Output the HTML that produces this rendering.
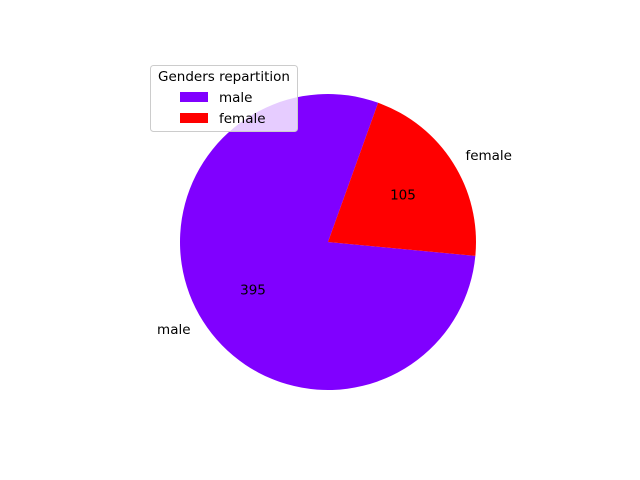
<!DOCTYPE html>
<html><head><meta charset="utf-8"><style>
body{margin:0;background:#fff;}
svg{display:block;font-family:"DejaVu Sans","Liberation Sans",sans-serif;}
</style></head><body>
<svg id="chart" width="640" height="480" viewBox="0 0 640 480"></svg>
<script>
const categories = ["male", "female"];
const values = [395, 105];
const colors = ["#8000ff", "#ff0000"];
const startAngle = 70.2;
const legendTitle = "Genders repartition";

const NS = "http://www.w3.org/2000/svg";
const svg = document.getElementById("chart");
const cx = 328, cy = 242, R = 148;
const FS = 13.5;
function mk(tag, attrs, parent) {
  const e = document.createElementNS(NS, tag);
  for (const k in attrs) e.setAttribute(k, attrs[k]);
  (parent || svg).appendChild(e);
  return e;
}
function pt(deg, r) {
  const a = deg * Math.PI / 180;
  return [cx + r * Math.cos(a), cy - r * Math.sin(a)];
}
const total = values.reduce((a, b) => a + b, 0);
let ang = startAngle;
values.forEach((v, i) => {
  const sweep = v / total * 360;
  const a0 = ang, a1 = ang + sweep;
  const p0 = pt(a0, R), p1 = pt(a1, R);
  const large = sweep > 180 ? 1 : 0;
  const path = mk("path", {
    d: `M${cx},${cy} L${p0[0]},${p0[1]} A${R},${R} 0 ${large} 0 ${p1[0]},${p1[1]} Z`,
    fill: colors[i]
  });
  
  
  const mid = (a0 + a1) / 2;
  const lp = pt(mid, R * 1.1);
  const cosm = Math.cos(mid * Math.PI / 180);
  const lbl = mk("text", {
    x: lp[0], y: lp[1] + 5, "font-size": FS, fill: "#000",
    "text-anchor": cosm >= 0 ? "start" : "end"
  });
  lbl.textContent = categories[i];
  
  
  const vp = pt(mid, R * 0.6);
  const vl = mk("text", {x: vp[0], y: vp[1] + 5, "font-size": FS, fill: "#000", "text-anchor": "middle"});
  vl.textContent = v;
  
  
  ang = a1;
});
// legend
const lg = mk("g", {});


mk("rect", {x: 150.5, y: 65.5, width: 147, height: 66, rx: 3, fill: "#fff", "fill-opacity": 0.8, stroke: "#ccc"}, lg);
const lt = mk("text", {x: 224, y: 81, "font-size": FS, "text-anchor": "middle", fill: "#000"}, lg);
lt.textContent = legendTitle;


categories.forEach((c, i) => {
  const y = 92 + i * 21;
  const sw = mk("rect", {x: 180, y: y, width: 28, height: 10, fill: colors[i]}, lg);
  
  
  const t = mk("text", {x: 219, y: y + 10, "font-size": FS, fill: "#000"}, lg);
  t.textContent = c;
  
  
});
</script>
</body></html>
